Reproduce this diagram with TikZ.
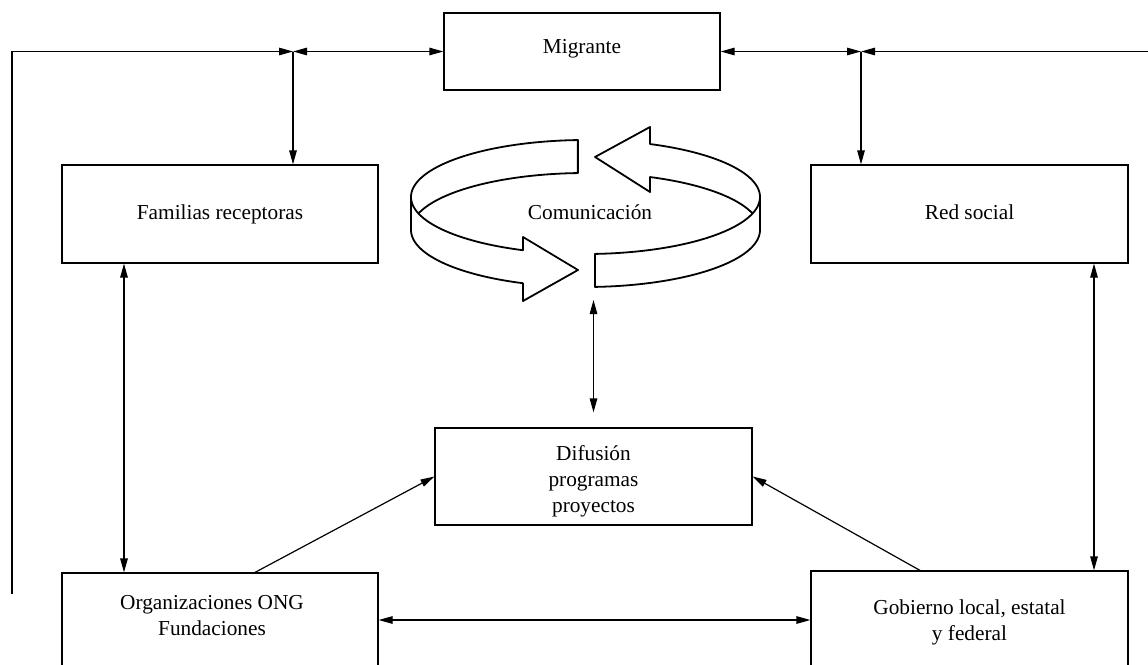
\documentclass[tikz,border=0pt]{standalone}
\usepackage{fontspec}
\setmainfont{Liberation Serif}
\usetikzlibrary{arrows.meta}
\tikzset{
  box/.style={draw, line width=1.2pt, inner sep=0pt, rectangle},
  txt/.style={font=\fontsize{21.3pt}{26pt}\selectfont, align=center, inner sep=0pt, text=black},
  conn/.style={line width=1.2pt},
  arr/.style={-{Triangle[length=14pt,width=7.5pt]}},
  darr/.style={{Triangle[length=14pt,width=7.5pt]}-{Triangle[length=14pt,width=7.5pt]}},
  ring/.style={line width=1.8pt, line join=round},
}
\begin{document}
\begin{tikzpicture}[x=1pt,y=-1pt]
\useasboundingbox (0,0) rectangle (1148,664);
\clip (0,0) rectangle (1148,664);

% boxes
\node[box, minimum width=276pt, minimum height=77pt] (mig) at (582,51.5) {};
\node[txt, anchor=base] (tmig) at (582,53) {Migrante};
\node[box, minimum width=316pt, minimum height=98pt] (fam) at (220,214) {};
\node[txt, anchor=base] (tfam) at (220,219) {Familias receptoras};
\node[box, minimum width=317pt, minimum height=98pt] (red) at (969.5,214) {};
\node[txt, anchor=base] (tred) at (969.5,219) {Red social};
\node[txt, anchor=base] (tcom) at (590,219) {Comunicación};
\node[box, minimum width=317pt, minimum height=97pt] (dif) at (593.5,476.5) {};
\node[txt, anchor=base] (tdif) at (593.5,512) {Difusión\\programas\\proyectos};
\node[box, minimum width=316pt, minimum height=140pt] (org) at (220,643) {};
\node[txt, anchor=base] (torg) at (212,635) {Organizaciones ONG\\Fundaciones};
\node[box, minimum width=317pt, minimum height=140pt] (gob) at (969.5,641) {};
\node[txt, anchor=base] (tgob) at (969.5,640) {Gobierno local, estatal\\y federal};

% cycle ribbon
\draw[ring] plot[domain=196.8:267.5, samples=40] ({585.5+174.5*cos(\x)},{230+57*sin(\x)})
  -- plot[domain=267.5:111, samples=90] ({585.5+174.5*cos(\x)},{197+57*sin(\x)})
  -- (523,237) -- (578,270) -- (523,301)
  -- plot[domain=111:180, samples=40] ({585.5+174.5*cos(\x)},{230+57*sin(\x)})
  -- (411,197);
\draw[ring] (760,197)
  -- plot[domain=0:86.9, samples=40] ({585.5+174.5*cos(\x)},{230+57*sin(\x)})
  -- plot[domain=86.9:-68.3, samples=90] ({585.5+174.5*cos(\x)},{197+57*sin(\x)})
  -- (650,127) -- (595,157) -- (650,192)
  -- plot[domain=-68.3:-16.8, samples=30] ({585.5+174.5*cos(\x)},{230+57*sin(\x)});

% connectors
\coordinate (J1) at (293,51.5);
\coordinate (J2) at (861,51.5);
\coordinate (L0) at (12,594);
\coordinate (R0) at (1150,51.5);
\coordinate (cb) at (593.5,300);
\draw[conn,arr] (L0) |- (J1);
\draw[conn,darr] (J1) -- (mig.west);
\draw[conn,arr] (J1) -- (J1 |- fam.north);
\draw[conn,darr] (mig.east) -- (J2);
\draw[conn,arr] (R0) -- (J2);
\draw[conn,arr] (J2) -- (J2 |- red.north);
\draw[conn,darr] ([xshift=-96pt]fam.south) -- ([xshift=-96pt]org.north);
\draw[conn,darr] ([xshift=124.5pt]red.south) -- ([xshift=124.5pt]gob.north);
\draw[conn,darr] ([yshift=23pt]org.east) -- ([yshift=23pt]org.east -| gob.west);
\draw[conn,arr] ([xshift=35pt]org.north) -- (dif.west);
\draw[conn,arr] ([xshift=-49.5pt]gob.north) -- (dif.east);
\draw[conn,darr] (cb) -- ([yshift=15pt]dif.north);
\end{tikzpicture}
\end{document}
